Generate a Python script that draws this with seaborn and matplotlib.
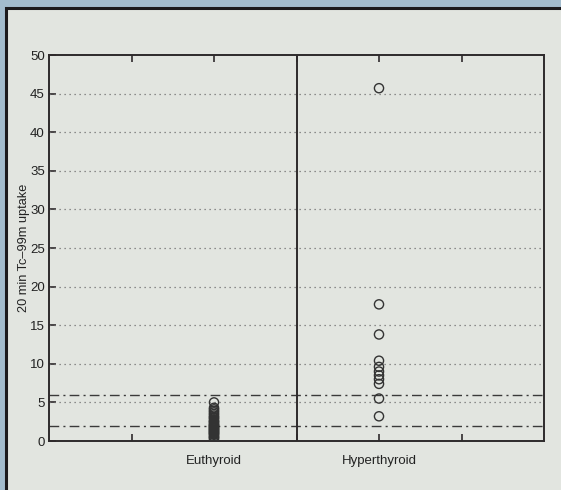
import matplotlib
matplotlib.use("Agg")
import matplotlib.pyplot as plt
from matplotlib.patches import Rectangle
import seaborn as sns
import pandas as pd

# ---- data ----
categories = ["Euthyroid", "Hyperthyroid"]
euthyroid = [0.2, 0.4, 0.5, 0.6, 0.8, 0.9, 1.0, 1.1, 1.2, 1.3, 1.4, 1.5, 1.6,
             1.7, 1.8, 1.9, 2.0, 2.1, 2.2, 2.4, 2.5, 2.6, 2.8, 3.0, 3.1, 3.3,
             3.5, 3.7, 3.9, 4.1, 4.3, 5.0]
hyperthyroid = [45.7, 17.7, 13.8, 10.4, 9.6, 9.0, 8.5, 8.0, 7.4, 5.5, 3.2]
ref_lines = [5.9, 1.9]
y_ticks = [0, 5, 10, 15, 20, 25, 30, 35, 40, 45, 50]
y_label = "20 min Tc\u201399m uptake"

df = pd.DataFrame({
    "group": [categories[0]] * len(euthyroid) + [categories[1]] * len(hyperthyroid),
    "uptake": euthyroid + hyperthyroid,
})

sns.set_theme(style="white")
plt.rcParams["font.family"] = ["Liberation Sans", "DejaVu Sans"]

panel = "#e2e5e0"
ink = "#2e2a2c"

fig = plt.figure(figsize=(5.61, 4.90), dpi=100)
fig.patch.set_facecolor("#a3bccd")
fig.add_artist(Rectangle((6 / 561, -0.1), 1.2, 1 - 8 / 490 + 0.1,
                         transform=fig.transFigure, facecolor=panel,
                         edgecolor="#1c1a1c", linewidth=2.2, zorder=-5))

ax = fig.add_axes([49 / 561, 1 - 441 / 490, (544 - 49) / 561, (441 - 55) / 490])
ax.set_zorder(2)
ax.set_facecolor(panel)

for y in y_ticks[1:-1]:
    ax.axhline(y, color="#6f6f6f", linestyle=(0, (1, 3)), linewidth=0.9, zorder=1)
for y in ref_lines:
    ax.axhline(y, color="#3a3a3a", linestyle=(0, (7, 3, 1.5, 3)), linewidth=1.0, zorder=1)
ax.axvline(0.5, color=ink, linewidth=1.4, zorder=2)

sns.stripplot(data=df, x="group", y="uptake", order=categories, jitter=False,
              marker="o", size=6.6, color="#333333", edgecolor="#333333",
              linewidth=1.0, ax=ax, zorder=3)
for coll in ax.collections:
    coll.set_facecolor("none")
    coll.set_edgecolor("#333333")
    coll.set_linewidth(1.0)

ax.set_xlim(-1, 2)
ax.set_ylim(0, 50)
ax.set_xticks([-0.5, 0, 0.5, 1, 1.5])
ax.set_xticklabels(["", categories[0], "", categories[1], ""])
ax.set_yticks(y_ticks)
ax.set_yticklabels([str(v) for v in y_ticks])
ax.set_xlabel("")
ax.set_ylabel(y_label, fontsize=9.2, color="#222222", labelpad=0)

ax.tick_params(axis="both", which="major", direction="in", length=5, width=1.2,
               color=ink, labelsize=9.5, labelcolor="#222222", top=True,
               bottom=True, left=True, right=False)
ax.tick_params(axis="y", pad=3)
ax.tick_params(axis="x", pad=10)

for s in ax.spines.values():
    s.set_visible(True)
    s.set_color(ink)
    s.set_linewidth(1.4)

fig.savefig("out.png", dpi=100, facecolor=fig.get_facecolor())
